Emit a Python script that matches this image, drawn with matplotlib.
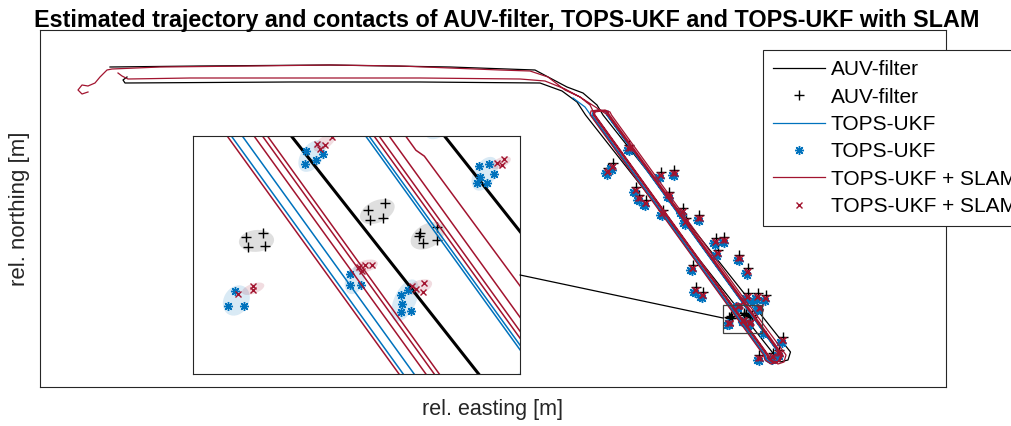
import numpy as np
import matplotlib.pyplot as plt
from matplotlib.patches import Ellipse, Rectangle, ConnectionPatch

plt.rcParams['font.family'] = ['Liberation Sans', 'DejaVu Sans']

# trajectories, rel. easting / northing [m]
auv_e = [70, 160, 290, 410, 495, 510, 527, 543, 557, 563, 750.5, 748, 740, 736, 545.5,
         537, 522, 500, 380, 250, 85, 83, 87]
auv_n = [320, 321, 322, 320, 317, 309, 300, 294, 282, 272, 35, 27, 25, 30, 272,
         285, 296, 304, 305, 305, 304, 307, 310]

ukf_e = [533, 545, 550.7, 724.0, 726, 732, 738, 740.0, 566.7, 565, 558, 553, 552.0,
         725.3, 727, 733, 739, 740.4, 567.1, 568]
ukf_n = [289, 280, 272, 32, 26, 23, 26, 32, 272, 276, 277, 275, 272,
         32, 27, 24, 27, 32, 272, 276]

slam_e = [48, 42, 38, 42, 48, 55, 60, 67, 72, 120, 210, 290, 360, 460, 490, 508, 525, 540, 560,
          567.7, 741.0, 738, 731, 725, 723.5, 550.2, 551, 558, 566, 568.3, 741.6, 739, 733, 728,
          726.7, 553.4, 554, 562, 568, 569.5, 742.8, 740, 734, 729, 727.7, 554.4, 555, 565, 570,
          571.5, 709.6, 710.6, 746.0, 744, 738, 731, 728.3, 555.0, 550, 540, 525, 505, 480, 380,
          250, 150, 88, 82, 78]
slam_n = [295, 293, 297, 302, 301, 304, 310, 317, 318, 320, 321, 322, 321, 317, 316, 310, 297, 290, 277,
          272, 32, 25, 23, 27, 32, 272, 276, 277, 276, 272, 32, 26, 24, 28,
          32, 272, 275, 276, 275, 272, 32, 26, 25, 29, 32, 272, 276, 277, 275,
          272, 80.7, 80.0, 32, 25, 23, 27, 32, 272, 282, 290, 298, 306, 308, 309,
          309, 309, 308, 311, 314]

# contacts
auv_contacts = np.array([
    [572.7, 223.8], [567.7, 218.8], [589.3, 242.2], [599.3, 192.2], [606, 187.2], [596, 200.5],
    [621, 215.5], [634.3, 217.2], [622.7, 177.2], [629.3, 195.5], [642.7, 178.8], [646, 168.8],
    [659.3, 172.2], [676, 148.8], [684.3, 150.5], [677.7, 137.2], [699.3, 132.2], [707.7, 118.8],
    [652.7, 122.2], [656, 100.5], [662.7, 95.5], [707.7, 93.8], [717.7, 93.8], [726, 92.2],
    [742.7, 50.5], [719.3, 32.2], [732.7, 33.8], [739.3, 37.2],
    [689.4, 70.4], [691.4, 70.8], [689.6, 69.2], [691.6, 69.3],
    [703.9, 73.6], [705.9, 74.4], [704.1, 72.4], [705.7, 72.6],
    [710.1, 70.8], [712.1, 71.6], [710.5, 69.6], [712.1, 70.0], [710.0, 70.5]])

ukf_contacts = np.array([
    [570.2, 218.8], [572.2, 217.3], [565.2, 213.8], [567.2, 212.3], [586.8, 237.2], [588.8, 235.7],
    [596.8, 187.2], [598.8, 185.7], [603.5, 182.2], [605.5, 180.7], [593.5, 195.5], [595.5, 194],
    [618.5, 210.5], [620.5, 209], [631.8, 212.2], [633.8, 210.7], [620.2, 172.2], [622.2, 170.7],
    [626.8, 190.5], [628.8, 189], [640.2, 173.8], [642.2, 172.3], [643.5, 163.8], [645.5, 162.3],
    [656.8, 167.2], [658.8, 165.7], [673.5, 143.8], [675.5, 142.3], [681.8, 145.5], [683.8, 144],
    [675.2, 132.2], [677.2, 130.7], [696.8, 127.2], [698.8, 125.7], [705.2, 113.8], [707.2, 112.3],
    [650.2, 117.2], [652.2, 115.7], [653.5, 95.5], [655.5, 94], [660.2, 90.5], [662.2, 89],
    [705.2, 88.8], [707.2, 87.3], [715.2, 88.8], [717.2, 87.3], [723.5, 87.2], [725.5, 85.7],
    [740.2, 45.5], [742.2, 44], [716.8, 27.2], [718.8, 25.7], [730.2, 28.8], [732.2, 27.3],
    [736.8, 32.2], [738.8, 30.7],
    [688.0, 63.9], [687.2, 62.2], [689.1, 62.2],
    [701.8, 65.9], [701.7, 64.6], [703.0, 64.6],
    [707.8, 63.4], [707.9, 62.4], [707.8, 61.4], [709.0, 61.6], [708.7, 64.1],
    [696.4, 79.1], [697.7, 79.5], [696.5, 80.6], [698.5, 80.3],
    [717.1, 78.8], [717.2, 77.5], [718.1, 76.8], [716.9, 76.8], [718.9, 77.9], [718.3, 79.1],
    [712.4, 84.0], [722.8, 53.0]])

slam_contacts = np.array([
    [571.7, 220.3], [573.2, 220.8], [566.7, 215.3], [568.2, 215.8], [588.3, 238.7], [589.8, 239.2],
    [598.3, 188.7], [599.8, 189.2], [605, 183.7], [606.5, 184.2], [595, 197], [596.5, 197.5],
    [620, 212], [621.5, 212.5], [633.3, 213.7], [634.8, 214.2], [621.7, 173.7], [623.2, 174.2],
    [628.3, 192], [629.8, 192.5], [641.7, 175.3], [643.2, 175.8], [645, 165.3], [646.5, 165.8],
    [658.3, 168.7], [659.8, 169.2], [675, 145.3], [676.5, 145.8], [683.3, 147], [684.8, 147.5],
    [676.7, 133.7], [678.2, 134.2], [698.3, 128.7], [699.8, 129.2], [706.7, 115.3], [708.2, 115.8],
    [651.7, 118.7], [653.2, 119.2], [655, 97], [656.5, 97.5], [661.7, 92], [663.2, 92.5],
    [706.7, 90.3], [708.2, 90.8], [716.7, 90.3], [718.2, 90.8], [725, 88.7], [726.5, 89.2],
    [741.7, 47], [743.2, 47.5], [718.3, 28.7], [719.8, 29.2], [731.7, 30.3], [733.2, 30.8],
    [738.3, 33.7], [739.8, 34.2],
    [688.4, 63.6], [690.2, 64.5], [690.2, 64.0],
    [702.8, 66.8], [703.5, 67.0], [704.4, 67.0], [703.2, 66.3],
    [709.1, 64.5], [710.6, 64.9], [710.5, 63.8], [709.6, 64.2],
    [697.8, 81.5], [698.8, 81.3], [699.6, 82.3], [698.2, 80.9],
    [719.2, 79.2], [720.1, 79.6], [719.9, 78.9]])

# contact covariance ellipses: centre e, centre n, width, height, angle
auv_ell = [(690.6, 69.9, 4.2, 2.6, 5), (705.0, 73.4, 4.4, 2.6, 25), (711.0, 70.5, 4.4, 2.8, 30)]
ukf_ell = [(688.2, 62.8, 3.8, 3.0, 60), (702.3, 65.2, 3.4, 2.2, 70), (708.3, 62.8, 5.4, 2.6, 65),
           (697.2, 80.0, 4.2, 2.6, 55), (717.8, 77.9, 4.4, 2.6, 60), (712.4, 83.6, 4.0, 2.4, 40),
           (722.6, 53.2, 3.0, 2.4, 40)]
slam_ell = [(690.2, 64.2, 2.8, 1.2, 20), (703.6, 66.9, 3.0, 1.4, 15), (710.0, 64.4, 3.2, 1.6, 20),
            (698.7, 81.6, 3.0, 1.4, 35), (719.7, 79.2, 2.6, 1.2, 25)]

c_auv = 'black'
c_ukf = '#0072BD'
c_slam = '#A2142F'
star = (8, 2, 0)


def draw(a, lw_k, lw_c):
    for ell, col, al in [(auv_ell, 'gray', 0.25), (ukf_ell, c_ukf, 0.15), (slam_ell, c_slam, 0.15)]:
        for ce, cn, w, h, ang in ell:
            a.add_patch(Ellipse((ce, cn), w, h, angle=ang, facecolor=col, alpha=al, lw=0))
    h = []
    h += a.plot(auv_e, auv_n, '-', color=c_auv, lw=lw_k, label='AUV-filter')
    h += a.plot(auv_contacts[:, 0], auv_contacts[:, 1], '+', color=c_auv, ms=7, mew=1.0,
                ls='none', label='AUV-filter')
    h += a.plot(ukf_e, ukf_n, '-', color=c_ukf, lw=lw_c, label='TOPS-UKF')
    h += a.plot(ukf_contacts[:, 0], ukf_contacts[:, 1], marker=star, color=c_ukf, ms=6.5, mew=1.0,
                ls='none', label='TOPS-UKF')
    h += a.plot(slam_e, slam_n, '-', color=c_slam, lw=lw_c, label='TOPS-UKF + SLAM')
    h += a.plot(slam_contacts[:, 0], slam_contacts[:, 1], 'x', color=c_slam, ms=5, mew=1.0,
                ls='none', label='TOPS-UKF + SLAM')
    a.set_xticks([])
    a.set_yticks([])
    for s in a.spines.values():
        s.set_color('#262626')
        s.set_linewidth(0.8)
    return h


fig = plt.figure(figsize=(10.12, 4.26), dpi=100)
ax = fig.add_axes([40 / 1012, 1 - 387 / 426, 906 / 1012, 357 / 426])
handles = draw(ax, 0.9, 0.9)
ax.set_xlim(0, 906)
ax.set_ylim(0, 357)
ax.set_xlabel('rel. easting [m]', fontsize=15.5, labelpad=9, color='#262626')
ax.set_ylabel('rel. northing [m]', fontsize=16, labelpad=7, color='#262626')

# zoom region
zx = (683, 722)
zy = (54.04, 82.4)
ax.add_patch(Rectangle((zx[0], zy[0]), zx[1] - zx[0], zy[1] - zy[0], fill=False,
                       ec='#404040', lw=0.9, zorder=5))

leg = ax.legend(handles, [hh.get_label() for hh in handles], loc='upper left',
                bbox_to_anchor=(763 / 1012, 1 - 50 / 426), bbox_transform=fig.transFigure,
                borderaxespad=0, fontsize=15, handlelength=2.5, handletextpad=0.25,
                labelspacing=0.4, borderpad=0.5, fancybox=False, framealpha=1,
                edgecolor='#262626', numpoints=1)
leg.get_frame().set_linewidth(0.8)

ins = fig.add_axes([192.7 / 1012, 1 - 374 / 426, 327.3 / 1012, 238 / 426])
draw(ins, 2.2, 1.1)
ins.set_xlim(*zx)
ins.set_ylim(*zy)

con = ConnectionPatch(xyA=(1, 0.416), coordsA=ins.transAxes, xyB=(zx[0], 69), coordsB=ax.transData,
                      color='black', lw=0.9)
fig.add_artist(con)

fig.text(507 / 1012, 1 - 21 / 426,
         'Estimated trajectory and contacts of AUV-filter, TOPS-UKF and TOPS-UKF with SLAM',
         ha='center', va='center', fontsize=16.8, fontweight='bold')

fig.savefig('out.png', dpi=100)
